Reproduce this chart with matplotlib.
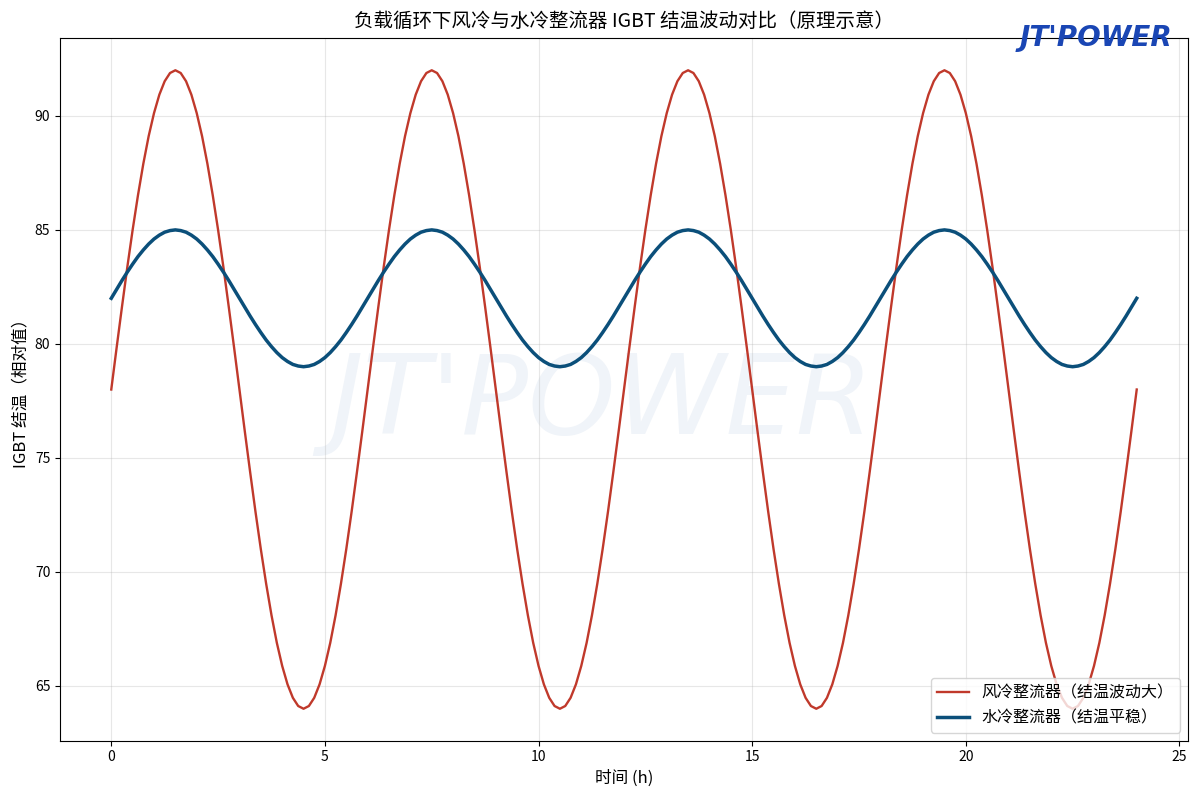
import numpy as np
import matplotlib
matplotlib.use('Agg')
import matplotlib.pyplot as plt

plt.rcParams['font.family'] = ['Noto Sans CJK SC', 'DejaVu Sans']
plt.rcParams['axes.unicode_minus'] = False

# 时间 (h)，每 0.125h 一个读数
hours = [i * 0.125 for i in range(193)]

# 风冷整流器结温
air_cooled = [
    78.00, 79.83, 81.62, 83.36, 85.00, 86.52, 87.90, 89.11, 90.12, 90.93, 91.52, 91.88,
    92.00, 91.88, 91.52, 90.93, 90.12, 89.11, 87.90, 86.52, 85.00, 83.36, 81.62, 79.83,
    78.00, 76.17, 74.38, 72.64, 71.00, 69.48, 68.10, 66.89, 65.88, 65.07, 64.48, 64.12,
    64.00, 64.12, 64.48, 65.07, 65.88, 66.89, 68.10, 69.48, 71.00, 72.64, 74.38, 76.17,
    78.00, 79.83, 81.62, 83.36, 85.00, 86.52, 87.90, 89.11, 90.12, 90.93, 91.52, 91.88,
    92.00, 91.88, 91.52, 90.93, 90.12, 89.11, 87.90, 86.52, 85.00, 83.36, 81.62, 79.83,
    78.00, 76.17, 74.38, 72.64, 71.00, 69.48, 68.10, 66.89, 65.88, 65.07, 64.48, 64.12,
    64.00, 64.12, 64.48, 65.07, 65.88, 66.89, 68.10, 69.48, 71.00, 72.64, 74.38, 76.17,
    78.00, 79.83, 81.62, 83.36, 85.00, 86.52, 87.90, 89.11, 90.12, 90.93, 91.52, 91.88,
    92.00, 91.88, 91.52, 90.93, 90.12, 89.11, 87.90, 86.52, 85.00, 83.36, 81.62, 79.83,
    78.00, 76.17, 74.38, 72.64, 71.00, 69.48, 68.10, 66.89, 65.88, 65.07, 64.48, 64.12,
    64.00, 64.12, 64.48, 65.07, 65.88, 66.89, 68.10, 69.48, 71.00, 72.64, 74.38, 76.17,
    78.00, 79.83, 81.62, 83.36, 85.00, 86.52, 87.90, 89.11, 90.12, 90.93, 91.52, 91.88,
    92.00, 91.88, 91.52, 90.93, 90.12, 89.11, 87.90, 86.52, 85.00, 83.36, 81.62, 79.83,
    78.00, 76.17, 74.38, 72.64, 71.00, 69.48, 68.10, 66.89, 65.88, 65.07, 64.48, 64.12,
    64.00, 64.12, 64.48, 65.07, 65.88, 66.89, 68.10, 69.48, 71.00, 72.64, 74.38, 76.17,
    78.00,
]

# 水冷整流器结温
water_cooled = [
    82.00, 82.39, 82.78, 83.15, 83.50, 83.83, 84.12, 84.38, 84.60, 84.77, 84.90, 84.97,
    85.00, 84.97, 84.90, 84.77, 84.60, 84.38, 84.12, 83.83, 83.50, 83.15, 82.78, 82.39,
    82.00, 81.61, 81.22, 80.85, 80.50, 80.17, 79.88, 79.62, 79.40, 79.23, 79.10, 79.03,
    79.00, 79.03, 79.10, 79.23, 79.40, 79.62, 79.88, 80.17, 80.50, 80.85, 81.22, 81.61,
    82.00, 82.39, 82.78, 83.15, 83.50, 83.83, 84.12, 84.38, 84.60, 84.77, 84.90, 84.97,
    85.00, 84.97, 84.90, 84.77, 84.60, 84.38, 84.12, 83.83, 83.50, 83.15, 82.78, 82.39,
    82.00, 81.61, 81.22, 80.85, 80.50, 80.17, 79.88, 79.62, 79.40, 79.23, 79.10, 79.03,
    79.00, 79.03, 79.10, 79.23, 79.40, 79.62, 79.88, 80.17, 80.50, 80.85, 81.22, 81.61,
    82.00, 82.39, 82.78, 83.15, 83.50, 83.83, 84.12, 84.38, 84.60, 84.77, 84.90, 84.97,
    85.00, 84.97, 84.90, 84.77, 84.60, 84.38, 84.12, 83.83, 83.50, 83.15, 82.78, 82.39,
    82.00, 81.61, 81.22, 80.85, 80.50, 80.17, 79.88, 79.62, 79.40, 79.23, 79.10, 79.03,
    79.00, 79.03, 79.10, 79.23, 79.40, 79.62, 79.88, 80.17, 80.50, 80.85, 81.22, 81.61,
    82.00, 82.39, 82.78, 83.15, 83.50, 83.83, 84.12, 84.38, 84.60, 84.77, 84.90, 84.97,
    85.00, 84.97, 84.90, 84.77, 84.60, 84.38, 84.12, 83.83, 83.50, 83.15, 82.78, 82.39,
    82.00, 81.61, 81.22, 80.85, 80.50, 80.17, 79.88, 79.62, 79.40, 79.23, 79.10, 79.03,
    79.00, 79.03, 79.10, 79.23, 79.40, 79.62, 79.88, 80.17, 80.50, 80.85, 81.22, 81.61,
    82.00,
]

fig = plt.figure(figsize=(12, 7.99), dpi=100)
ax = fig.add_axes([0.05, 0.073, 0.94, 0.879])

# 水印
ax.text(0.48, 0.48, "JT'POWER", transform=ax.transAxes, fontsize=80,
        fontstyle='italic', color='#f0f4f9', ha='center', va='center',
        family='DejaVu Sans', zorder=0)

ax.plot(hours, air_cooled, color='#c0392b', linewidth=1.7, label='风冷整流器（结温波动大）')
ax.plot(hours, water_cooled, color='#0b4f7a', linewidth=2.5, label='水冷整流器（结温平稳）')

ax.set_title('负载循环下风冷与水冷整流器 IGBT 结温波动对比（原理示意）', fontsize=14, pad=8)
ax.set_xlabel('时间 (h)', fontsize=12)
ax.set_ylabel('IGBT 结温（相对值）', fontsize=12)
ax.grid(True, alpha=0.3)
ax.legend(loc='lower right', fontsize=11.5)

# logo
fig.text(0.977, 0.953, "JT'POWER", fontsize=20, fontstyle='italic', fontweight='bold',
         color='#1a46b4', ha='right', va='center', family='DejaVu Sans')

fig.savefig('out.png', dpi=100)
